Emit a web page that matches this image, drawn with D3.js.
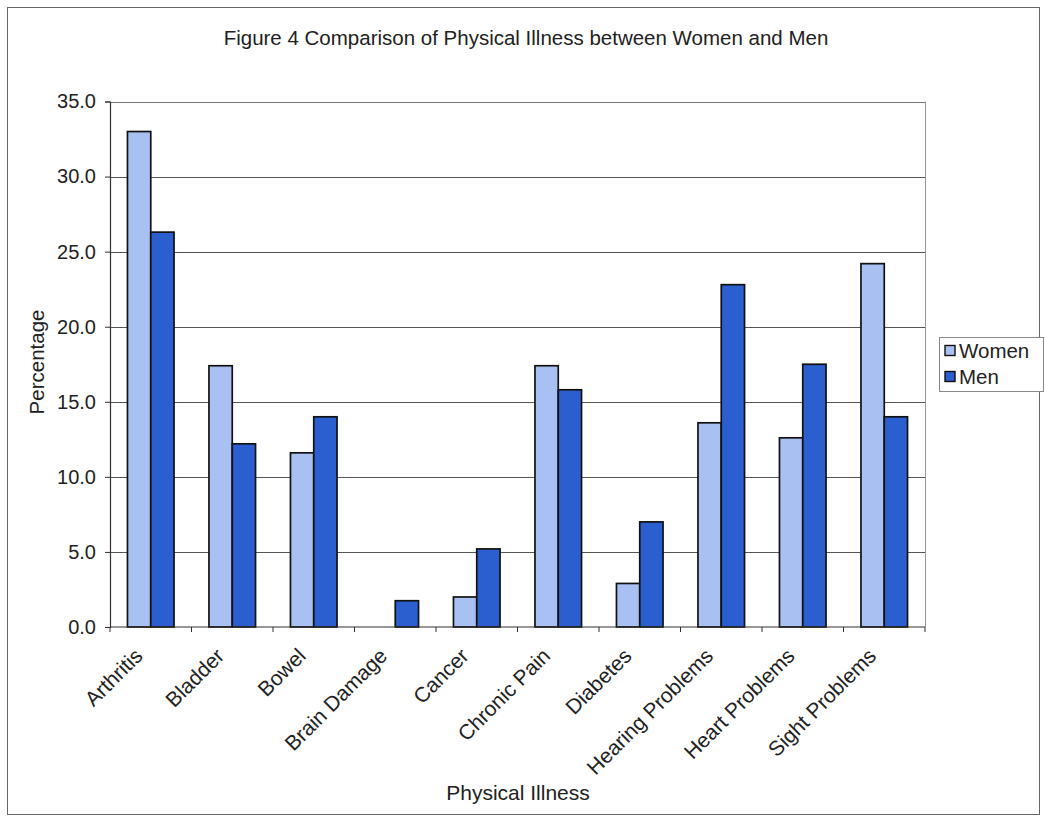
<!DOCTYPE html>
<html>
<head>
<meta charset="utf-8">
<script src="https://cdn.jsdelivr.net/npm/d3@7"></script>
<style>
  html, body { margin: 0; padding: 0; background: #fff; }
  svg text { font-family: "Liberation Sans", Arial, sans-serif; fill: #222; }
</style>
</head>
<body>
<svg id="chart" width="1045" height="821"></svg>
<script>
// Physical illness percentages by sex
const categories = ["Arthritis", "Bladder", "Bowel", "Brain Damage", "Cancer",
  "Chronic Pain", "Diabetes", "Hearing Problems", "Heart Problems", "Sight Problems"];
const seriesNames = ["Women", "Men"];
const women = [33.0, 17.4, 11.6, 0.0, 2.0, 17.4, 2.9, 13.6, 12.6, 24.2];
const men   = [26.3, 12.2, 14.0, 1.75, 5.2, 15.8, 7.0, 22.8, 17.5, 14.0];
const yTicks = [0, 5, 10, 15, 20, 25, 30, 35];
const colors = ["#a9c1f2", "#2b5fcf"];

const svg = d3.select("#chart");

// outer chart frame
svg.append("rect")
  .attr("x", 7.5).attr("y", 7.5).attr("width", 1032).attr("height", 807)
  .attr("fill", "#fff").attr("stroke", "#666").attr("stroke-width", 1);

const plot = { left: 110, right: 925, top: 101.5, bottom: 627 };

const x = d3.scaleBand().domain(categories).range([plot.left, plot.right]);
const y = d3.scaleLinear().domain([0, 35]).range([plot.bottom, plot.top]);

// bars sit in 2/3.5 of each band (Excel gap width 150%)
const bw = x.bandwidth();
const barW = bw / 3.5;
const xs = d3.scaleBand().domain(seriesNames)
  .range([barW * 0.75, barW * 0.75 + 2 * barW]);

// gridlines
svg.append("g").selectAll("line").data(yTicks.filter(d => d > 0)).join("line")
  .attr("x1", plot.left).attr("x2", plot.right)
  .attr("y1", d => Math.round(y(d)) + 0.5).attr("y2", d => Math.round(y(d)) + 0.5)
  .attr("stroke", d => d === 35 ? "#777" : "#555").attr("stroke-width", 1);

// right border of plot area
svg.append("line")
  .attr("x1", plot.right + 0.5).attr("x2", plot.right + 0.5)
  .attr("y1", plot.top).attr("y2", plot.bottom)
  .attr("stroke", "#999").attr("stroke-width", 1);

// bars
const rows = categories.map((c, i) => ({ cat: c, vals: [women[i], men[i]] }));
const groups = svg.append("g").selectAll("g").data(rows).join("g")
  .attr("transform", d => `translate(${x(d.cat)},0)`);
groups.selectAll("rect")
  .data(d => d.vals.map((v, j) => ({ name: seriesNames[j], v, j })).filter(e => e.v > 0))
  .join("rect")
  .attr("x", e => xs(e.name))
  .attr("width", xs.bandwidth())
  .attr("y", e => y(e.v))
  .attr("height", e => y(0) - y(e.v))
  .attr("fill", e => colors[e.j])
  .attr("stroke", "#111").attr("stroke-width", 1.7);

// y axis
const yAxis = d3.axisLeft(y).tickValues(yTicks).tickFormat(d3.format(".1f"))
  .tickSizeOuter(0).tickSize(5).tickPadding(9);
const yg = svg.append("g").attr("transform", `translate(${plot.left},0)`).call(yAxis);
yg.select(".domain").attr("stroke", "#333").attr("stroke-width", 1.2);
yg.selectAll(".tick line").attr("stroke", "#333");
yg.selectAll(".tick text").attr("font-size", 20)
  .attr("font-family", "Liberation Sans, Arial, sans-serif").attr("fill", "#222");

// x axis: ticks at category boundaries
const xg = svg.append("g").attr("transform", `translate(0,${plot.bottom})`);
xg.append("line").attr("x1", plot.left).attr("x2", plot.right)
  .attr("stroke", "#333").attr("stroke-width", 1.2);
const bounds = categories.map(c => x(c)).concat([plot.right]);
xg.selectAll("line.tk").data(bounds).join("line").attr("class", "tk")
  .attr("x1", d => d).attr("x2", d => d).attr("y1", 0).attr("y2", 5)
  .attr("stroke", "#333");
xg.selectAll("text").data(categories).join("text")
  .attr("transform", d => `translate(${x(d) + bw / 2 - 12},${25}) rotate(-45)`)
  .attr("text-anchor", "end")
  .attr("dy", "0.35em")
  .attr("font-size", 21)
  .text(d => d);

// titles
svg.append("text").attr("x", 526).attr("y", 45).attr("text-anchor", "middle")
  .attr("font-size", 20.5).text("Figure 4 Comparison of Physical Illness between Women and Men");
svg.append("text").attr("x", 518).attr("y", 800).attr("text-anchor", "middle")
  .attr("font-size", 21).text("Physical Illness");
svg.append("text").attr("transform", "translate(44,362) rotate(-90)")
  .attr("text-anchor", "middle").attr("font-size", 20.5).text("Percentage");

// legend
const lg = svg.append("g");
lg.append("rect").attr("x", 939.5).attr("y", 337.5).attr("width", 104).attr("height", 54)
  .attr("fill", "#fff").attr("stroke", "#888");
seriesNames.forEach((n, i) => {
  lg.append("rect").attr("x", 945).attr("y", 345.5 + i * 26).attr("width", 10).attr("height", 10)
    .attr("fill", colors[i]).attr("stroke", "#111").attr("stroke-width", 1.4);
  lg.append("text").attr("x", 959).attr("y", 357.5 + i * 26).attr("font-size", 20.5).text(n);
});
</script>
</body>
</html>
